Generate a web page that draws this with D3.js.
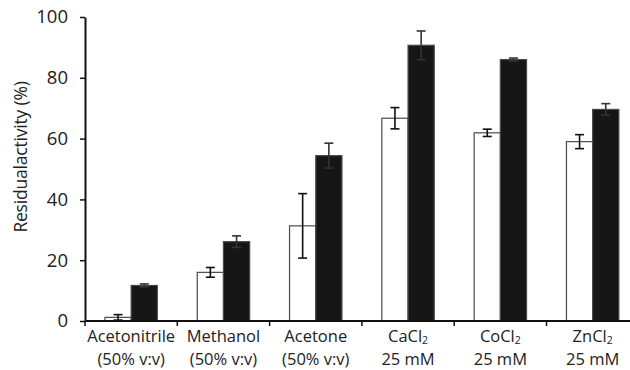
<!DOCTYPE html>
<html>
<head>
<meta charset="utf-8" />
<title>residual activity</title>
<script src="https://cdn.jsdelivr.net/npm/d3@7"></script>
<style>
html, body {
	margin:0;
	padding:0;
	background:#ffffff;
}
svg {
	font-family: 'Open Sans', 'Noto Sans', sans-serif;
	display:block;
}
</style>
</head>
<body>
<script>

//=======================================
// data
//=======================================

let categories = ['Acetonitrile', 'Methanol', 'Acetone', 'CaCl', 'CoCl', 'ZnCl'],
		subLabels  = ['(50% v:v)', '(50% v:v)', '(50% v:v)', '25 mM', '25 mM', '25 mM'],
		subscript  = ['', '', '', '2', '2', '2'],

		whiteValues = [1.2, 16.0, 31.3, 66.7, 61.9, 59.0],
		whiteErrors = [0.9, 1.6, 10.6, 3.5, 1.2, 2.3],

		blackValues = [11.7, 26.1, 54.4, 90.7, 86.0, 69.6],
		blackErrors = [0.5, 1.9, 4.1, 4.7, 0.5, 1.9],

		yTicks = [0, 20, 40, 60, 80, 100];


//=======================================
// chart
//=======================================

let width = 630,
		height = 370,
		margin = {top:17, left:85, bottom:49},
		step = 92.3,
		barW = 26.2,

		x = d3.scaleBand()
					.domain(categories)
					.range([margin.left, margin.left + step*categories.length])
					.paddingInner(0).paddingOuter(0),

		y = d3.scaleLinear()
					.domain([0,100])
					.range([height - margin.bottom, margin.top]);


let svg = d3.select('body')
	.append('svg')
		.attr('width', width)
		.attr('height', height);


// bars
let series = [
	{values:whiteValues, errors:whiteErrors, fill:'#ffffff', dx:-barW},
	{values:blackValues, errors:blackErrors, fill:'#161616', dx:0},
];

series.forEach(s=>{

	let g = svg.append('g');

	g.selectAll('rect').data(categories)
		.enter()
			.append('rect')
				.attr('x', d=>x(d) + x.bandwidth()/2 + s.dx)
				.attr('y', (d,i)=>y(s.values[i]))
				.attr('width', barW)
				.attr('height', (d,i)=>y(0) - y(s.values[i]))
				.attr('fill', s.fill)
				.attr('stroke', '#4a4a4a')
				.attr('stroke-width', 1.2);

	// error bars
	g.selectAll('g.err').data(categories)
		.enter()
			.append('g')
				.attr('class','err')
				.attr('stroke', s.fill=='#ffffff' ? '#111' : '#333')
				.attr('stroke-width', 1.6)
				.call(sel=>{
					let cx = d=>x(d) + x.bandwidth()/2 + s.dx + barW/2;
					sel.append('line')
						.attr('x1', cx).attr('x2', cx)
						.attr('y1', (d,i)=>y(s.values[i] - s.errors[i]))
						.attr('y2', (d,i)=>y(s.values[i] + s.errors[i]));
					sel.append('line')
						.attr('x1', d=>cx(d)-4.5).attr('x2', d=>cx(d)+4.5)
						.attr('y1', (d,i)=>y(s.values[i] + s.errors[i]))
						.attr('y2', (d,i)=>y(s.values[i] + s.errors[i]));
					sel.append('line')
						.attr('x1', d=>cx(d)-4.5).attr('x2', d=>cx(d)+4.5)
						.attr('y1', (d,i)=>y(s.values[i] - s.errors[i]))
						.attr('y2', (d,i)=>y(s.values[i] - s.errors[i]));
				});
});


//=====================
// axes
//=====================

let yAxis = d3.axisLeft(y)
							.tickValues(yTicks)
							.tickSize(5)
							.tickPadding(12)
							.tickSizeOuter(0);

svg.append('g')
	.attr('transform','translate('+[margin.left,0]+')')
	.call(yAxis)
	.call(sel=>{
		sel.select('.domain').attr('stroke','#111').attr('stroke-width',2);
		sel.selectAll('.tick line').attr('stroke','#111').attr('stroke-width',1.5);
		sel.selectAll('.tick text')
			.attr('font-size', 18.5)
			.attr('font-family', "'Open Sans', sans-serif")
			.attr('fill','#222');
	});

// x axis line + boundary ticks
let boundaries = categories.map(d=>x(d)).concat([x.range()[1]]);

svg.append('g')
	.call(sel=>{
		sel.append('line')
			.attr('x1', margin.left).attr('x2', x.range()[1])
			.attr('y1', y(0)).attr('y2', y(0))
			.attr('stroke','#111').attr('stroke-width',2);

		sel.selectAll('line.tk').data(boundaries)
			.enter()
				.append('line')
					.attr('class','tk')
					.attr('x1', d=>d).attr('x2', d=>d)
					.attr('y1', y(0)).attr('y2', y(0)+5)
					.attr('stroke','#111').attr('stroke-width',1.5);
	});

// category labels
svg.append('g')
	.selectAll('g').data(categories)
		.enter()
			.append('g')
				.attr('transform', d=>'translate('+[x(d)+x.bandwidth()/2, 0]+')')
				.attr('font-size', 16.5)
				.attr('fill','#222')
				.attr('text-anchor','middle')
				.call(sel=>{
					let t = sel.append('text').attr('y', 342);
					t.append('tspan').text(d=>d);
					t.append('tspan')
						.attr('font-size', 10.5)
						.attr('dy', 1.5)
						.text((d,i)=>subscript[i]);

					sel.append('text')
						.attr('y', 365)
						.text((d,i)=>subLabels[i]);
				});

// y label
svg.append('text')
	.attr('transform','translate('+[27, 157]+') rotate(-90)')
	.attr('text-anchor','middle')
	.attr('font-size', 17.5)
	.attr('fill','#222')
	.attr('letter-spacing', -0.2)
	.text('Residualactivity (%)');

</script>
</body>
</html>
